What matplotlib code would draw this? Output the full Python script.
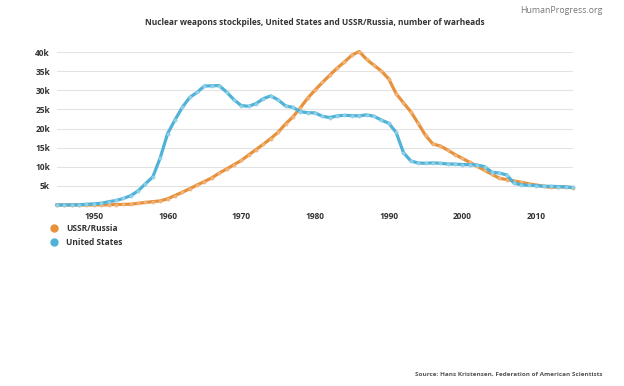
import matplotlib
matplotlib.use("Agg")
import matplotlib.pyplot as plt
from matplotlib.lines import Line2D

plt.rcParams['font.family'] = ['Open Sans', 'DejaVu Sans']

years = list(range(1945, 2016))

us = [2, 9, 13, 50, 170, 299, 438, 841, 1169, 1703,
      2422, 3692, 5543, 7345, 12298, 18638, 22229, 25540, 28133, 29463,
      31139, 31175, 31255, 29561, 27552, 26008, 25830, 26516, 27835, 28537,
      27519, 25914, 25542, 24418, 24138, 24104, 23208, 22886, 23305, 23459,
      23368, 23317, 23575, 23205, 22217, 21392, 19008, 13708, 11511, 10979,
      10904, 11011, 10903, 10732, 10685, 10577, 10526, 10457, 10027, 8570,
      8360, 7853, 5709, 5273, 5113, 5066, 4897, 4881, 4804, 4717, 4571]

russia = [0, 0, 0, 0, 1, 5, 25, 50, 120, 150,
          200, 426, 660, 869, 1060, 1605, 2471, 3322, 4238, 5221,
          6129, 7089, 8339, 9399, 10538, 11643, 13092, 14478, 15915, 17385,
          19055, 21205, 23044, 25393, 27935, 30062, 32049, 33952, 35804, 37431,
          39197, 40159, 38107, 36538, 35078, 32980, 29154, 26734, 24403, 21339,
          18179, 15942, 15442, 14368, 13188, 12188, 11152, 10114, 9076, 8038,
          7000, 6643, 6286, 5929, 5527, 5215, 4903, 4591, 4732, 4700, 4500]

x_ticks = [1950, 1960, 1970, 1980, 1990, 2000, 2010]
y_ticks = [5000, 10000, 15000, 20000, 25000, 30000, 35000, 40000]
y_labels = ['5k', '10k', '15k', '20k', '25k', '30k', '35k', '40k']

orange = '#e8913b'
blue = '#4fb2d6'
text_col = '#333333'

fig = plt.figure(figsize=(6.24, 3.86), dpi=100)
ax = fig.add_axes([0.0913, 0.469, 0.827, 0.396])

ax.plot(years, russia, color=orange, lw=2.3, marker='o', ms=2.4,
        mfc='#f0b47a', mec='#f0b47a', mew=0.3, clip_on=False, zorder=3)
ax.plot(years, us, color=blue, lw=2.3, marker='o', ms=2.4,
        mfc='#8fd0e8', mec='#8fd0e8', mew=0.3, clip_on=False, zorder=3)

ax.set_xlim(1945, 2015)
ax.set_ylim(0, 40000)
ax.set_xticks(x_ticks)
ax.set_xticklabels([str(t) for t in x_ticks])
ax.set_yticks(y_ticks)
ax.set_yticklabels(y_labels)
ax.tick_params(length=0, labelsize=6, colors=text_col, pad=5)
for lab in ax.get_xticklabels() + ax.get_yticklabels():
    lab.set_fontweight('bold')
ax.grid(axis='y', color='#e3e3e3', lw=0.8)
ax.set_axisbelow(True)
for s in ax.spines.values():
    s.set_visible(False)

fig.text(0.505, 0.943, 'Nuclear weapons stockpiles, United States and USSR/Russia, number of warheads',
         ha='center', va='center', fontsize=6, fontweight='bold', color=text_col)
fig.text(0.899, 0.974, 'HumanProgress.org', ha='center', va='center',
         fontsize=6.3, color='#777777')
fig.text(0.965, 0.031, 'Source: Hans Kristensen, Federation of American Scientists',
         ha='right', va='center', fontsize=4.6, fontweight='bold', color='#555555')

# legend
for yy, c, name in [(0.409, orange, 'USSR/Russia'), (0.373, blue, 'United States')]:
    fig.add_artist(Line2D([0.0865], [yy], transform=fig.transFigure, marker='o',
                          ms=5, color=c, lw=0))
    fig.text(0.106, yy, name, ha='left', va='center', fontsize=6,
             fontweight='bold', color=text_col)

fig.savefig('out.png', dpi=100)
